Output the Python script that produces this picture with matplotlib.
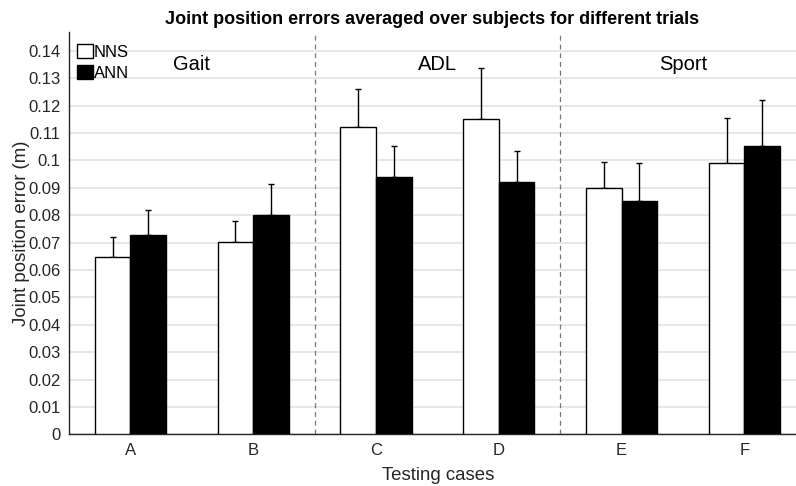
import numpy as np
import matplotlib
matplotlib.use('Agg')
from matplotlib import pyplot as plt

plt.rcParams['font.family'] = ['Liberation Sans', 'DejaVu Sans']

cases = ['A', 'B', 'C', 'D', 'E', 'F']
nns = [0.0646, 0.0703, 0.1123, 0.1152, 0.0898, 0.0992]
ann = [0.0727, 0.0801, 0.0939, 0.0920, 0.0852, 0.1053]
nns_err = [0.0075, 0.0074, 0.0136, 0.0185, 0.0097, 0.0163]
ann_err = [0.0091, 0.0113, 0.0115, 0.0115, 0.0140, 0.0168]
groups = ['Gait', 'ADL', 'Sport']

GRAY = '#262626'

fig = plt.figure(figsize=(7.96, 4.86), dpi=100)
ax = fig.add_axes([0.0867, 0.1064, 0.9133, 0.8278])

x = np.arange(len(cases))
w = 0.29
ax.bar(x - w/2, nns, w, color='white', edgecolor='black', linewidth=1.0,
       label='NNS', zorder=3)
ax.bar(x + w/2, ann, w, color='black', edgecolor='black', linewidth=1.0,
       label='ANN', zorder=3)
ax.errorbar(x - w/2, nns, yerr=[np.zeros(6), nns_err], fmt='none',
            ecolor='black', elinewidth=1.0, capsize=2, capthick=1.0, zorder=2)
ax.errorbar(x + w/2, ann, yerr=[np.zeros(6), ann_err], fmt='none',
            ecolor='black', elinewidth=1.0, capsize=2, capthick=1.0, zorder=2)

# group separators
for xs in [1.5, 3.5]:
    ax.axvline(xs, color='#777777', linestyle=(0, (4, 3)), linewidth=0.9, zorder=1)
for i, g in enumerate(groups):
    ax.text(2*i + 0.5, 0.135, g, ha='center', va='center', fontsize=14.5, color='black')

ax.set_xlim(-0.5, 5.42)
ax.set_ylim(0, 0.1469)
ax.set_yticks(np.arange(0, 0.141, 0.01))
ax.set_yticklabels(['0'] + ['%g' % round(v, 2) for v in np.arange(0.01, 0.141, 0.01)])
ax.set_xticks(x)
ax.set_xticklabels(cases)
ax.tick_params(length=0, labelsize=12, colors=GRAY, pad=6)
ax.yaxis.grid(True, color='#e3e3e3', linewidth=1.2, zorder=0)
ax.set_axisbelow(True)
for s in ['top', 'right']:
    ax.spines[s].set_visible(False)
for s in ['left', 'bottom']:
    ax.spines[s].set_color(GRAY)
    ax.spines[s].set_linewidth(1.0)

ax.set_xlabel('Testing cases', fontsize=13.4, color=GRAY)
ax.xaxis.set_label_coords(0.508, -0.082)
ax.set_ylabel('Joint position error (m)', fontsize=13.4, color=GRAY, labelpad=-1)
ax.set_title('Joint position errors averaged over subjects for different trials',
             fontsize=13, fontweight='bold', pad=6)

leg = ax.legend(loc='upper left', frameon=False, fontsize=12, handlelength=0.95,
                handleheight=0.95, handletextpad=0.05, labelspacing=0.3,
                borderaxespad=0.0, borderpad=0.0, bbox_to_anchor=(0.011, 0.970))

fig.savefig('out.png', dpi=100)
